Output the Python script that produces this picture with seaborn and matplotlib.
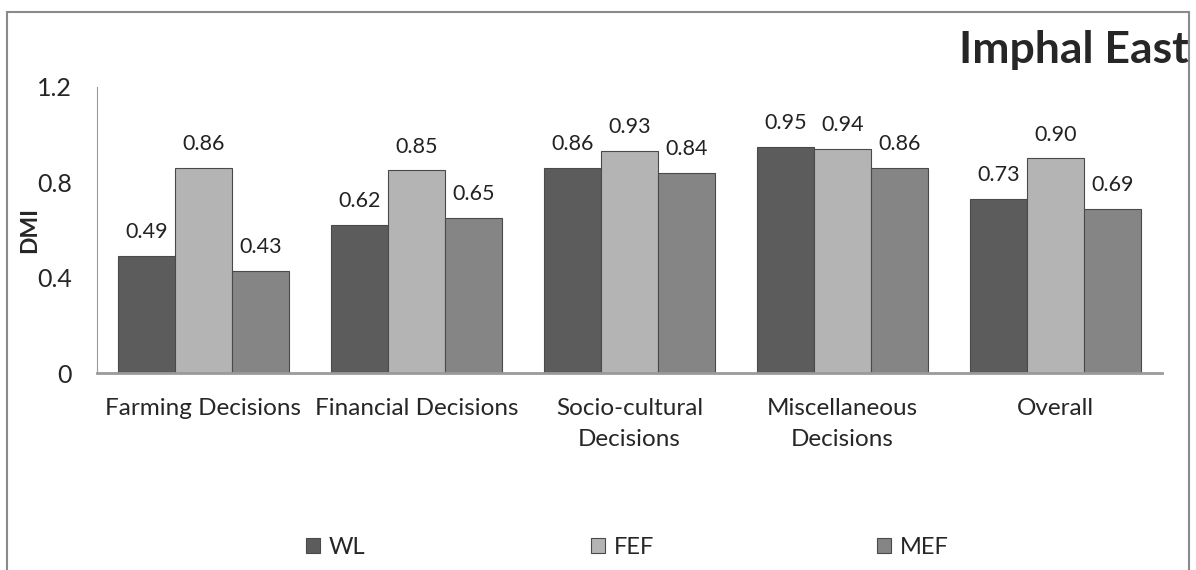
import pandas as pd
import matplotlib.pyplot as plt
import seaborn as sns
from matplotlib.patches import Rectangle

categories = ["Farming Decisions", "Financial Decisions", "Socio-cultural\nDecisions",
              "Miscellaneous\nDecisions", "Overall"]
wl = [0.49, 0.62, 0.86, 0.95, 0.73]
fef = [0.86, 0.85, 0.93, 0.94, 0.90]
mef = [0.43, 0.65, 0.84, 0.86, 0.69]
groups = ["WL", "FEF", "MEF"]
colors = ["#5c5c5c", "#b4b4b4", "#858585"]

df = pd.DataFrame({
    "Category": categories * 3,
    "DMI": wl + fef + mef,
    "Group": ["WL"] * 5 + ["FEF"] * 5 + ["MEF"] * 5,
})

sns.set_style("white")
plt.rcParams["font.family"] = ["Lato", "DejaVu Sans"]

fig = plt.figure(figsize=(11.96, 5.7), dpi=100)
ax = fig.add_axes([0.0811, 0.3456, 0.8905, 0.5018])

sns.barplot(data=df, x="Category", y="DMI", hue="Group", hue_order=groups,
            palette=colors, width=0.8, saturation=1, ax=ax,
            edgecolor="#4a4a4a", linewidth=0.8)

for c in ax.containers:
    ax.bar_label(c, fmt="%.2f", padding=10, fontsize=15.5, color="#222222")

ax.set_ylim(0, 1.2)
ax.set_yticks([0, 0.4, 0.8, 1.2])
ax.set_yticklabels(["0", "0.4", "0.8", "1.2"], fontsize=18)
ax.tick_params(axis="y", length=0, pad=18)
ax.tick_params(axis="x", length=0, pad=18, labelsize=17.5)
for t in ax.get_xticklabels():
    t.set_linespacing(1.6)
ax.set_xlabel("")
ax.set_ylabel("")
fig.text(0.025, 0.596, "DMI", rotation=90, ha="center", va="center",
         fontsize=16.5, fontweight="bold")
for s in ["top", "right"]:
    ax.spines[s].set_visible(False)
ax.spines["left"].set_color("#9a9a9a")
ax.spines["bottom"].set_color("#9a9a9a")
ax.spines["bottom"].set_linewidth(2)

handles, labels = ax.get_legend_handles_labels()
ax.legend_.remove()
for h, l, x in zip(handles, labels, [306, 591, 877]):
    fig.legend([h], [l], loc="center left", bbox_to_anchor=(x / 1196, 0.04),
               frameon=False, fontsize=17, borderpad=0, borderaxespad=0,
               handlelength=0.6, handleheight=0.6, handletextpad=0.35)

fig.text(0.994, 1 - 63 / 570, "Imphal East", ha="right", va="baseline",
         fontsize=32, fontweight="bold")

fig.patches.append(Rectangle((0.006, -0.1), 0.988, 1.079, transform=fig.transFigure,
                             fill=False, edgecolor="#8a8a8a", linewidth=1.5))

fig.savefig("out.png", dpi=100)
